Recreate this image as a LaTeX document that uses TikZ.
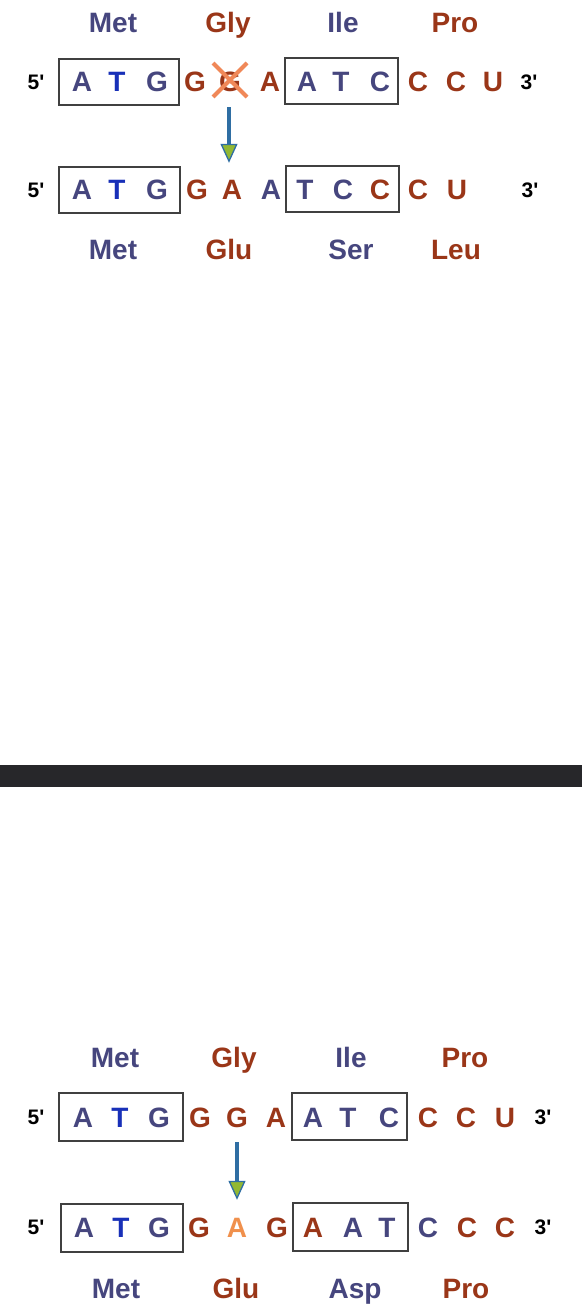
\documentclass[tikz,border=0pt]{standalone}
\usepackage{fontspec}
\setmainfont{Liberation Sans}
\usetikzlibrary{arrows.meta}
\usetikzlibrary{calc}

\definecolor{slate}{HTML}{46467E}
\definecolor{tblue}{HTML}{1830B8}
\definecolor{rust}{HTML}{9A3618}
\definecolor{mutorange}{HTML}{F0904C}
\definecolor{crossorange}{HTML}{F08858}
\definecolor{arrowblue}{HTML}{2F6EA3}
\definecolor{arrowgreen}{HTML}{92B832}
\definecolor{band}{HTML}{27272A}

\tikzset{
  base/.style={inner sep=0pt, font=\fontsize{28}{28}\selectfont\bfseries, text height=20pt, text depth=0pt},
  aa/.style={base},
  prime/.style={inner sep=0pt, font=\fontsize{21}{21}\selectfont\bfseries, text height=15pt, text depth=0pt, text=black},
  codon/.style={draw=black!75, line width=1.3pt},
  strike/.style={draw=crossorange, line width=4.2pt},
  mutarrow/.style={draw=arrowblue, line width=3.2pt, -{Triangle[width=17pt,length=19pt,line width=1.3pt,fill=arrowgreen]}}
}

\begin{document}
\begin{tikzpicture}[x=1pt,y=-1pt]
\useasboundingbox (0,0) rectangle (582,1316);
\fill[white] (0,0) rectangle (582,1316);

%% top panel: deletion
\foreach \x/\n/\c in {113/Met/slate, 228/Gly/rust, 343/Ile/slate, 455/Pro/rust}
  \node[aa, text=\c] (tl-\n) at (\x,23) {\n};
\node[prime] (t5a) at (36,82) {5\textquotesingle};
\node[prime] (t3a) at (529,82) {3\textquotesingle};
\foreach \x/\b/\c [count=\i] in {82/A/slate, 117/T/tblue, 157/G/slate, 195/G/rust, 230/G/rust, 270/A/rust,
    307/A/slate, 341/T/slate, 380/C/slate, 418/C/rust, 456/C/rust, 493/U/rust}
  \node[base, text=\c] (ta\i) at (\x,82) {\b};
\draw[codon] (59,59) rectangle (179,105);
\draw[codon] (285,58) rectangle (398,104);
\draw[strike] ([shift={(-17pt,19pt)}]ta5.center) -- ([shift={(17pt,-15pt)}]ta5.center);
\draw[strike] ([shift={(17pt,19pt)}]ta5.center) -- ([shift={(-17pt,-15pt)}]ta5.center);

\node[prime] (t5b) at (36,190) {5\textquotesingle};
\node[prime] (t3b) at (530,190) {3\textquotesingle};
\foreach \x/\b/\c [count=\i] in {82/A/slate, 117/T/tblue, 157/G/slate, 197/G/rust, 232/A/rust, 271/A/slate,
    305/T/slate, 343/C/slate, 380/C/rust, 418/C/rust, 457/U/rust}
  \node[base, text=\c] (tb\i) at (\x,190) {\b};
\draw[codon] (59,167) rectangle (180,213);
\draw[codon] (286,166) rectangle (399,212);
\draw[mutarrow] ([shift={(-1pt,-15pt)}]ta5.south) -- ([shift={(-1pt,17pt)}]ta5.south |- tb5.north);
\foreach \x/\n/\c in {113/Met/slate, 229/Glu/rust, 351/Ser/slate, 456/Leu/rust}
  \node[aa, text=\c] (tr-\n) at (\x,249) {\n};

%% separator
\fill[band] (0,765) rectangle (582,787);

%% bottom panel: substitution
\foreach \x/\n/\c in {115/Met/slate, 234/Gly/rust, 351/Ile/slate, 465/Pro/rust}
  \node[aa, text=\c] (bl-\n) at (\x,1057) {\n};
\node[prime] (b5a) at (36,1117) {5\textquotesingle};
\node[prime] (b3a) at (543,1117) {3\textquotesingle};
\foreach \x/\b/\c [count=\i] in {83/A/slate, 120/T/tblue, 159/G/slate, 200/G/rust, 237/G/rust, 276/A/rust,
    313/A/slate, 348/T/slate, 389/C/slate, 428/C/rust, 466/C/rust, 505/U/rust}
  \node[base, text=\c] (ba\i) at (\x,1117) {\b};
\draw[codon] (59,1093) rectangle (183,1141);
\draw[codon] (292,1093) rectangle (407,1140);

\node[prime] (b5b) at (36,1227) {5\textquotesingle};
\node[prime] (b3b) at (543,1227) {3\textquotesingle};
\foreach \x/\b/\c [count=\i] in {84/A/slate, 121/T/tblue, 159/G/slate, 199/G/rust, 237/A/mutorange, 277/G/rust,
    313/A/rust, 353/A/slate, 387/T/slate, 428/C/slate, 467/C/rust, 505/C/rust}
  \node[base, text=\c] (bb\i) at (\x,1227) {\b};
\draw[codon] (61,1204) rectangle (183,1252);
\draw[codon] (293,1203) rectangle (408,1251);
\draw[mutarrow] ([yshift=-15pt]ba5.south) -- ([yshift=17pt]bb5.north);
\foreach \x/\n/\c in {116/Met/slate, 236/Glu/rust, 355/Asp/slate, 466/Pro/rust}
  \node[aa, text=\c] (br-\n) at (\x,1288) {\n};
\end{tikzpicture}
\end{document}
